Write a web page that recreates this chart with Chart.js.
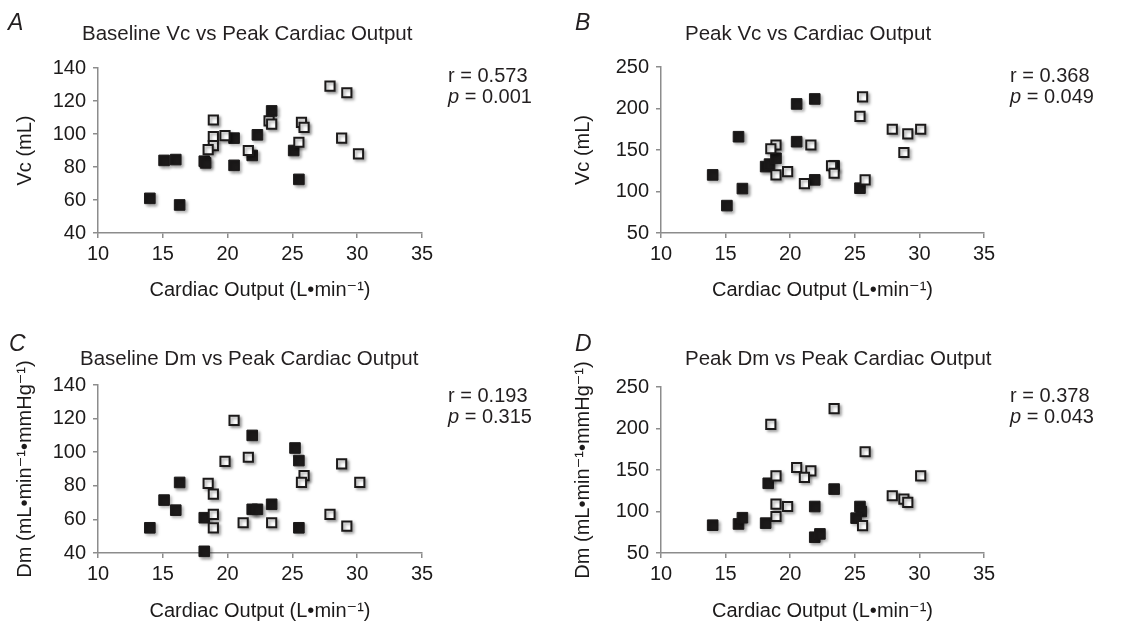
<!DOCTYPE html>
<html>
<head>
<meta charset="utf-8">
<script src="https://cdn.jsdelivr.net/npm/chart.js@4.4.0/dist/chart.umd.min.js"></script>
<style>
  html, body { margin: 0; padding: 0; background: #fff; overflow: hidden; }
  body { width: 1121px; height: 622px; position: relative; font-family: 'Liberation Sans', Arial, Helvetica, sans-serif; color: #231f20; }
  canvas { position: absolute; }
  .lbl { position: absolute; white-space: nowrap; }
  .letter { font-size: 23px; line-height: 23px; font-style: italic; }
  .title { font-size: 20.5px; line-height: 20px; }
  .stats { font-size: 20px; line-height: 21px; }
</style>
</head>
<body>
<canvas id="chartA" width="560" height="310" style="left:0;top:0"></canvas>
<canvas id="chartB" width="561" height="310" style="left:560px;top:0"></canvas>
<canvas id="chartC" width="560" height="322" style="left:0;top:300px"></canvas>
<canvas id="chartD" width="561" height="322" style="left:560px;top:300px"></canvas>

<div class="lbl letter" style="left:8px;top:11px">A</div>
<div class="lbl title" style="left:82px;top:23px">Baseline Vc vs Peak Cardiac Output</div>
<div class="lbl stats" style="left:448px;top:65px">r = 0.573<br><i>p</i> = 0.001</div>

<div class="lbl letter" style="left:575px;top:11px">B</div>
<div class="lbl title" style="left:685px;top:23px">Peak Vc vs Cardiac Output</div>
<div class="lbl stats" style="left:1010px;top:65px">r = 0.368<br><i>p</i> = 0.049</div>

<div class="lbl letter" style="left:9px;top:332px">C</div>
<div class="lbl title" style="left:80px;top:348px">Baseline Dm vs Peak Cardiac Output</div>
<div class="lbl stats" style="left:448px;top:385px">r = 0.193<br><i>p</i> = 0.315</div>

<div class="lbl letter" style="left:575px;top:332px">D</div>
<div class="lbl title" style="left:685px;top:348px">Peak Dm vs Peak Cardiac Output</div>
<div class="lbl stats" style="left:1010px;top:385px">r = 0.378<br><i>p</i> = 0.043</div>

<script>
// x axis (cardiac output) ticks, shared by all panels
const coTicks = [10, 15, 20, 25, 30, 35];
const vcBaseTicks = [40, 60, 80, 100, 120, 140];
const vcPeakTicks = [50, 100, 150, 200, 250];

// A: baseline Vc vs peak cardiac output
const aFilledX = [14.0, 15.1, 16.0, 16.3, 18.2, 18.3, 20.5, 20.5, 22.3, 21.9, 23.4, 25.1, 25.5];
const aFilledY = [61, 84, 84.5, 57, 83.5, 82.5, 97.5, 81, 99.5, 87, 114, 90, 72.5];
const aOpenX = [18.9, 18.9, 18.9, 18.5, 19.8, 21.6, 23.2, 23.4, 25.7, 25.9, 25.5, 27.9, 29.2, 28.8, 30.1];
const aOpenY = [108.5, 98.5, 93, 90.5, 99, 90, 108, 106, 107, 104, 95, 129, 125, 97.5, 88];

// B: peak Vc vs cardiac output
const bFilledX = [14.0, 15.1, 16.0, 16.3, 18.1, 18.4, 18.9, 20.5, 20.5, 21.9, 21.9, 23.4, 25.4];
const bFilledY = [120, 83, 166, 103.5, 130, 133, 140, 205.5, 160, 211.5, 114, 131, 104];
const bOpenX = [18.9, 18.5, 18.9, 19.8, 21.6, 21.1, 23.2, 23.4, 25.6, 25.4, 25.8, 27.9, 29.1, 30.1, 28.8];
const bOpenY = [156, 151.5, 120, 124, 156, 109.5, 131, 122, 214, 190.5, 114, 175, 169.5, 175, 147];

// C: baseline Dm vs peak cardiac output
const cFilledX = [14.0, 15.1, 16.0, 16.3, 18.2, 18.2, 21.9, 21.9, 22.3, 23.4, 25.2, 25.5, 25.5];
const cFilledY = [55, 71.5, 65.5, 82, 61, 41, 110, 66, 66, 69, 102.5, 95, 55];
const cOpenX = [20.5, 19.8, 21.6, 18.5, 18.9, 18.9, 18.9, 21.2, 23.4, 25.9, 25.7, 28.8, 30.2, 27.9, 29.2];
const cOpenY = [119, 94.5, 97, 81.5, 75, 63, 55, 58, 58, 86, 82, 93, 82, 63, 56];

// D: peak Dm vs peak cardiac output
const dFilledX = [14.0, 16.0, 16.3, 18.1, 18.3, 21.9, 21.9, 22.3, 23.4, 25.4, 25.5, 25.1];
const dFilledY = [83.5, 85, 92.5, 86, 134, 106, 69, 73, 127, 106, 100, 92];
const dOpenX = [18.5, 23.4, 25.8, 18.9, 20.5, 21.6, 21.1, 18.9, 19.8, 18.9, 25.6, 27.9, 28.8, 29.1, 30.1];
const dOpenY = [205, 224, 172, 143, 153, 149, 141, 109, 106, 94, 83, 119, 115, 111, 143];

const ink = '#1c1a1a';
const axisGrey = '#8c8c8c';
const fontFam = "'Liberation Sans', Arial, Helvetica, 'DejaVu Sans', sans-serif";

function zip(xs, ys) {
  return xs.map((x, i) => ({ x: x, y: ys[i] }));
}

// soft drop shadow behind the squares
const shadowPlugin = {
  id: 'shadow',
  beforeDatasetsDraw(chart) {
    const c = chart.ctx;
    c.save();
    c.shadowColor = 'rgba(0,0,0,0.35)';
    c.shadowBlur = 3;
    c.shadowOffsetX = 2;
    c.shadowOffsetY = 2;
  },
  afterDatasetsDraw(chart) {
    chart.ctx.restore();
  }
};

function makePanel(id, fx, fy, ox, oy, yTicks, yTitle, pad) {
  new Chart(document.getElementById(id), {
    type: 'scatter',
    data: {
      datasets: [{
        data: zip(ox, oy),
        pointStyle: 'rect',
        pointRadius: 6.5,
        borderWidth: 2,
        borderColor: ink,
        backgroundColor: '#fff',
        clip: false
      }, {
        data: zip(fx, fy),
        pointStyle: 'rect',
        pointRadius: 7.5,
        borderWidth: 1,
        borderColor: ink,
        backgroundColor: ink,
        clip: false
      }]
    },
    options: {
      responsive: false,
      animation: false,
      devicePixelRatio: 1,
      layout: { padding: { left: 0, top: pad.top, right: pad.right, bottom: 0 } },
      plugins: { legend: { display: false }, tooltip: { enabled: false } },
      scales: {
        x: {
          type: 'linear',
          min: coTicks[0],
          max: coTicks[coTicks.length - 1],
          afterBuildTicks: s => { s.ticks = coTicks.map(v => ({ value: v })); },
          afterFit: s => { s.height = pad.xh; },
          ticks: { color: ink, font: { family: fontFam, size: 20 }, padding: 4, maxRotation: 0 },
          grid: { drawOnChartArea: false, tickLength: 5, color: axisGrey, lineWidth: 1.5 },
          border: { color: axisGrey, width: 1.5 },
          title: {
            display: true,
            text: 'Cardiac Output (L•min⁻¹)',
            color: ink,
            font: { family: fontFam, size: 20, lineHeight: 1 },
            padding: { top: 0, bottom: pad.xt }
          }
        },
        y: {
          type: 'linear',
          min: yTicks[0],
          max: yTicks[yTicks.length - 1],
          afterBuildTicks: s => { s.ticks = yTicks.map(v => ({ value: v })); },
          afterFit: s => { s.width = pad.yw; },
          ticks: { color: ink, font: { family: fontFam, size: 20 }, padding: 7 },
          grid: { drawOnChartArea: false, tickLength: 5, color: axisGrey, lineWidth: 1.5 },
          border: { color: axisGrey, width: 1.5 },
          title: {
            display: true,
            text: yTitle,
            color: ink,
            font: { family: fontFam, size: 20, lineHeight: 1 },
            padding: { top: pad.yt, bottom: 0 }
          }
        }
      }
    },
    plugins: [shadowPlugin]
  });
}

const dmTitle = 'Dm (mL•min⁻¹•mmHg⁻¹)';

makePanel('chartA', aFilledX, aFilledY, aOpenX, aOpenY, vcBaseTicks, 'Vc (mL)',
  { top: 68, right: 138, xh: 77, xt: 10, yw: 98, yt: 15 });
makePanel('chartB', bFilledX, bFilledY, bOpenX, bOpenY, vcPeakTicks, 'Vc (mL)',
  { top: 67, right: 137, xh: 77, xt: 10, yw: 101, yt: 13 });
makePanel('chartC', cFilledX, cFilledY, cOpenX, cOpenY, vcBaseTicks, dmTitle,
  { top: 85, right: 138, xh: 69, xt: 1, yw: 98, yt: 15 });
makePanel('chartD', dFilledX, dFilledY, dOpenX, dOpenY, vcPeakTicks, dmTitle,
  { top: 87, right: 137, xh: 69, xt: 1, yw: 101, yt: 13 });
</script>
</body>
</html>
